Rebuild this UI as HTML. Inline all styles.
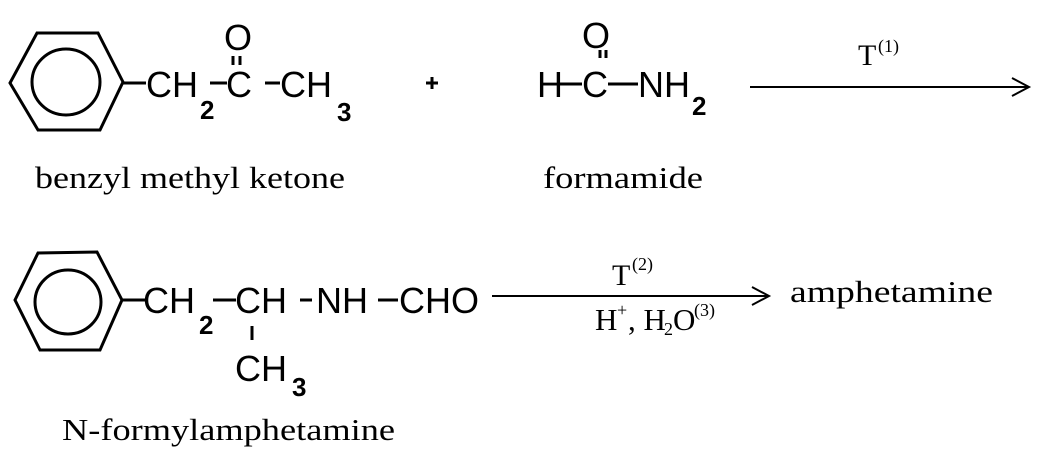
<!DOCTYPE html>
<html><head><meta charset="utf-8"><style>
html,body{margin:0;padding:0;background:#fff;}
svg{display:block;}
.s{font-family:"Liberation Sans",sans-serif;font-size:36px;fill:#000;}
.sub{font-family:"Liberation Sans",sans-serif;font-size:26px;font-weight:bold;fill:#000;}
.r{font-family:"Liberation Serif",serif;font-size:31px;fill:#000;}
.sm{font-family:"Liberation Serif",serif;font-size:18px;fill:#000;}
</style></head><body>
<svg width="1040" height="456" viewBox="0 0 1040 456" xmlns="http://www.w3.org/2000/svg">
<g stroke="#000" stroke-width="3" fill="none">
<polygon points="10,83 37,33 98,33 123,82 100,130 38,130"/>
<ellipse cx="66" cy="82" rx="34" ry="33"/>
<line x1="123" y1="83" x2="146" y2="83"/>
<line x1="210" y1="83" x2="227" y2="83"/>
<line x1="265" y1="83" x2="280" y2="83"/>
<line x1="233" y1="56" x2="233" y2="65"/>
<line x1="240" y1="56" x2="240" y2="65"/>
<line x1="426" y1="83" x2="438" y2="83"/>
<line x1="432" y1="77" x2="432" y2="89"/>
<line x1="560" y1="84" x2="582" y2="84"/>
<line x1="608" y1="84" x2="638" y2="84"/>
<line x1="600" y1="50" x2="600" y2="58"/>
<line x1="606" y1="50" x2="606" y2="58"/>
<line x1="750" y1="87" x2="1028" y2="87" stroke-width="2"/>
<polyline points="1012,78 1029,87 1012,96" stroke-width="2"/>
<polygon points="15,300 38,253 97,252 122,300 100,350 40,350"/>
<ellipse cx="68" cy="302" rx="33" ry="32"/>
<line x1="122" y1="300" x2="145" y2="300"/>
<line x1="213" y1="300" x2="236" y2="300"/>
<line x1="300" y1="300" x2="312" y2="300"/>
<line x1="378" y1="300" x2="398" y2="300"/>
<line x1="252" y1="326" x2="252" y2="340"/>
<line x1="492" y1="296" x2="768" y2="296" stroke-width="2"/>
<polyline points="752,287 769,296 752,305" stroke-width="2"/>
</g>
<text class="s" x="146" y="97">CH</text>
<text class="sub" x="200" y="119">2</text>
<text class="s" x="226" y="97">C</text>
<text class="s" x="224" y="50">O</text>
<text class="s" x="280" y="97">CH</text>
<text class="sub" x="337" y="121">3</text>
<text class="r" x="35" y="188" textLength="310" lengthAdjust="spacingAndGlyphs">benzyl methyl ketone</text>
<text class="s" x="537" y="97">H</text>
<text class="s" x="582" y="97">C</text>
<text class="s" x="582" y="48">O</text>
<text class="s" x="638" y="97">NH</text>
<text class="sub" x="692" y="115">2</text>
<text class="r" x="543" y="188" textLength="160" lengthAdjust="spacingAndGlyphs">formamide</text>
<text class="r" x="858" y="65" style="font-size:30px">T</text><text class="sm" x="878" y="52">(1)</text>
<text class="s" x="143" y="313">CH</text>
<text class="sub" x="199" y="334">2</text>
<text class="s" x="235" y="313">CH</text>
<text class="s" x="316" y="313">NH</text>
<text class="s" x="399" y="313">CHO</text>
<text class="s" x="235" y="381">CH</text>
<text class="sub" x="292" y="396">3</text>
<text class="r" x="62" y="440" textLength="333" lengthAdjust="spacingAndGlyphs">N-formylamphetamine</text>
<text class="r" x="612" y="285" style="font-size:30px">T</text><text class="sm" x="632" y="270">(2)</text>
<text class="r" x="595" y="330">H</text><text class="sm" x="617" y="316">+</text>
<text class="r" x="628" y="330">, H</text><text class="sm" x="664" y="335">2</text><text class="r" x="673" y="330">O</text><text class="sm" x="694" y="316">(3)</text>
<text class="r" x="790" y="302" textLength="203" lengthAdjust="spacingAndGlyphs">amphetamine</text>
</svg>
</body></html>
